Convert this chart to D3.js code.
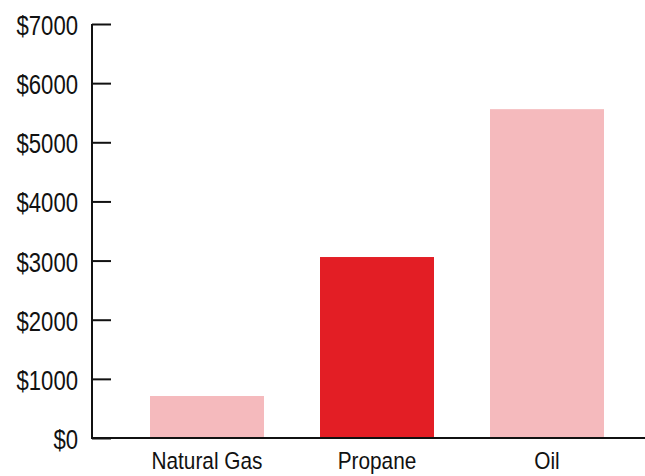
<!DOCTYPE html>
<html><head><meta charset="utf-8">
<script src="https://cdn.jsdelivr.net/npm/d3@7"></script>
<style>
body{margin:0;background:#fff;}
text{font-family:"Liberation Sans","Arial",sans-serif;fill:#111;}
</style></head>
<body>
<svg id="c" width="645" height="476"></svg>
<script>
const categories = ["Natural Gas", "Propane", "Oil"];
const values = [710, 3060, 5560];
const highlight = ["Propane"];
const yTicks = [0, 1000, 2000, 3000, 4000, 5000, 6000, 7000];

const W = 645, H = 476;
const svg = d3.select("#c");
const x0 = 92, yBase = 438, yTop = 24;

const x = d3.scaleBand().domain(categories).range([x0, 662])
  .paddingInner(56/170).paddingOuter(58/170);
const y = d3.scaleLinear().domain([0, 7000]).range([yBase, yTop]);

svg.selectAll("rect.bar").data(categories).join("rect")
  .attr("class","bar")
  .attr("x", d => x(d))
  .attr("width", x.bandwidth())
  .attr("y", (d,i) => y(values[i]))
  .attr("height", (d,i) => y(0) - y(values[i]))
  .attr("fill", d => highlight.includes(d) ? "#e31e25" : "#f5babd");

const yAxis = svg.append("g").attr("transform", `translate(${x0},0)`)
  .call(d3.axisRight(y).tickValues(yTicks).tickSize(19).tickFormat(""));
yAxis.select(".domain").remove();
yAxis.selectAll(".tick line").attr("stroke","#111").attr("stroke-width",2);

svg.append("line").attr("x1", x0).attr("x2", x0).attr("y1", yTop).attr("y2", yBase)
  .attr("stroke","#111").attr("stroke-width",2);
svg.append("line").attr("x1", x0-1).attr("x2", W).attr("y1", yBase).attr("y2", yBase)
  .attr("stroke","#111").attr("stroke-width",2);

svg.selectAll("text.ylab").data(yTicks).join("text")
  .attr("class","ylab")
  .attr("transform", d => `translate(78,${y(d) + 11}) scale(0.79,1)`)
  .attr("text-anchor","end")
  .attr("font-size", 28)
  .text(d => "$" + d);

svg.selectAll("text.xlab").data(categories).join("text")
  .attr("class","xlab")
  .attr("transform", d => `translate(${x(d) + x.bandwidth()/2},469) scale(0.85,1)`)
  .attr("text-anchor","middle")
  .attr("font-size", 24.5)
  .text(d => d);
</script>
</body></html>
